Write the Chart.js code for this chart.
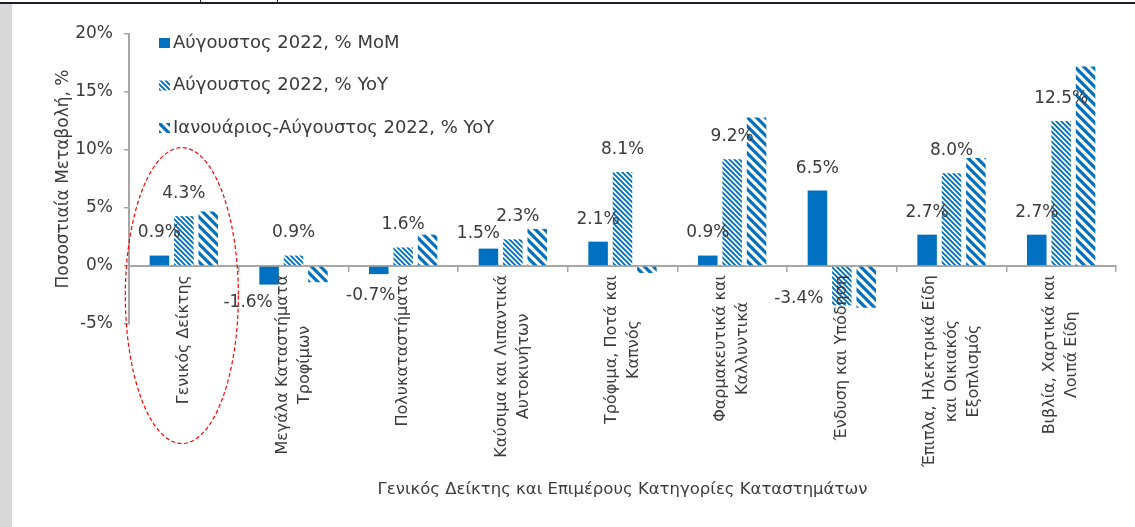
<!DOCTYPE html>
<html>
<head>
<meta charset="utf-8">
<script src="https://cdn.jsdelivr.net/npm/chart.js@4.4.1/dist/chart.umd.min.js"></script>
<style>
html,body{margin:0;padding:0;background:#fff;overflow:hidden;}
#wrap{position:relative;width:1135px;height:527px;}
#strip{position:absolute;left:0;top:4px;width:12px;height:523px;background:#D9D9D9;}
#topline{position:absolute;left:0;top:2px;width:1135px;height:2px;background:#1d1d2c;}
.tk{position:absolute;top:0;width:1px;height:3px;background:#1d1d2c;}
#c{position:absolute;left:0;top:0;}
</style>
</head>
<body>
<div id="wrap">
  <div id="strip"></div>
  <div id="topline"></div>
  <div class="tk" style="left:200px"></div>
  <div class="tk" style="left:277px"></div>
  <canvas id="c" width="1135" height="527"></canvas>
</div>
<script>
// ---- data ----
const categories = [
  ["Γενικός Δείκτης"],
  ["Μεγάλα Καταστήματα", "Τροφίμων"],
  ["Πολυκαταστήματα"],
  ["Καύσιμα και Λιπαντικά", "Αυτοκινήτων"],
  ["Τρόφιμα, Ποτά και", "Καπνός"],
  ["Φαρμακευτικά και", "Καλλυντικά"],
  ["Ένδυση και Υπόδηση"],
  ["Έπιπλα, Ηλεκτρικά Είδη", "και Οικιακός", "Εξοπλισμός"],
  ["Βιβλία, Χαρτικά και", "Λοιπά Είδη"]
];
const seriesNames = [
  "Αύγουστος 2022, % MoM",
  "Αύγουστος 2022, % YoY",
  "Ιανουάριος-Αύγουστος 2022, % YoY"
];
const momValues = [0.9, -1.6, -0.7, 1.5, 2.1, 0.9, 6.5, 2.7, 2.7];
const yoyValues = [4.3, 0.9, 1.6, 2.3, 8.1, 9.2, -3.4, 8.0, 12.5];
const ytdValues = [4.7, -1.4, 2.7, 3.2, -0.6, 12.8, -3.6, 9.3, 17.2];
const yTicks = [-5, 0, 5, 10, 15, 20];
const yTitle = "Ποσοστιαία Μεταβολή, %";
const xTitle = "Γενικός Δείκτης και Επιμέρους Κατηγορίες Καταστημάτων";

// ---- style ----
const FONT = '"DejaVu Sans", sans-serif';
const TXT = '#3b3b3b';
const BLUE = '#0070C0';
const AXIS = '#A6A6A6';

function makePattern(size, lw) {
  const c = document.createElement('canvas');
  c.width = size; c.height = size;
  const g = c.getContext('2d');
  g.fillStyle = '#ffffff';
  g.fillRect(0, 0, size, size);
  g.strokeStyle = BLUE;
  g.lineWidth = lw;
  g.beginPath();
  for (let k = -2; k <= 2; k++) {
    g.moveTo(k * size - size, -size);
    g.lineTo(k * size + 2 * size, 2 * size);
  }
  g.stroke();
  return document.getElementById('c').getContext('2d').createPattern(c, 'repeat');
}
const patYoY = makePattern(5, 1.9);
const patYtd = makePattern(9, 3.2);

// nudges for a few manually placed data labels: "dataset-index": [dx, dy]
const labelNudges = { '0-1': [-21, -2], '0-2': [-8, 1], '0-3': [-10, 7], '1-3': [5, 0], '1-6': [-43, -27] };

const decor = {
  id: 'decor',
  afterDraw(chart) {
    const { ctx, chartArea, scales: { x, y } } = chart;
    ctx.save();
    // data labels (first two series)
    ctx.font = '17px ' + FONT;
    ctx.fillStyle = TXT;
    ctx.textAlign = 'center';
    ctx.textBaseline = 'middle';
    [0, 1].forEach(di => {
      const meta = chart.getDatasetMeta(di);
      const vals = chart.data.datasets[di].data;
      meta.data.forEach((bar, i) => {
        const v = vals[i];
        const n = labelNudges[di + '-' + i] || [0, 0];
        const yy = v >= 0 ? bar.y - 22.5 : bar.y + 20;
        ctx.fillText(v.toFixed(1) + '%', bar.x + n[0], yy + n[1]);
      });
    });
    // category labels (rotated, centered lines)
    ctx.font = '16px ' + FONT;
    const lh = 22;
    const y0 = y.getPixelForValue(0);
    categories.forEach((lines, i) => {
      const cx = x.getPixelForValue(i);
      const maxW = Math.max(...lines.map(l => ctx.measureText(l).width));
      ctx.save();
      ctx.translate(cx, y0 + 9);
      ctx.rotate(-Math.PI / 2);
      ctx.textAlign = 'center';
      ctx.textBaseline = 'middle';
      lines.forEach((l, k) => {
        ctx.fillText(l, -maxW / 2, (k - (lines.length - 1) / 2) * lh);
      });
      ctx.restore();
    });
    // x axis title
    ctx.font = '16.5px ' + FONT;
    ctx.textAlign = 'center';
    ctx.textBaseline = 'middle';
    ctx.fillText(xTitle, (chartArea.left + chartArea.right) / 2, 490);
    // legend inside plot
    const lx = chartArea.left + 30, ly0 = chartArea.top + 9, step = 42.5;
    chart.data.datasets.forEach((ds, k) => {
      const yy = ly0 + k * step;
      ctx.fillStyle = ds.backgroundColor;
      ctx.fillRect(lx, yy - 5, 11, 10);
      ctx.fillStyle = TXT;
      ctx.font = '18px ' + FONT;
      ctx.textAlign = 'left';
      ctx.fillText(ds.label, lx + 14, yy);
    });
    // red dashed ellipse around the general index
    ctx.beginPath();
    ctx.ellipse(x.getPixelForValue(0) - 2, y.getPixelForValue(-2.55), 56.5, 148, 0, 0, Math.PI * 2);
    ctx.setLineDash([4, 2.5]);
    ctx.strokeStyle = '#FF0000';
    ctx.lineWidth = 1.2;
    ctx.stroke();
    ctx.restore();
  }
};

new Chart(document.getElementById('c'), {
  type: 'bar',
  data: {
    labels: categories.map(c => c.join(' ')),
    datasets: [
      { label: seriesNames[0], data: momValues, backgroundColor: BLUE },
      { label: seriesNames[1], data: yoyValues, backgroundColor: patYoY },
      { label: seriesNames[2], data: ytdValues, backgroundColor: patYtd }
    ]
  },
  options: {
    responsive: false,
    animation: false,
    layout: { padding: { left: 0, top: 34, right: 19, bottom: 203 } },
    datasets: { bar: { categoryPercentage: 0.6675, barPercentage: 0.8 } },
    plugins: { legend: { display: false }, tooltip: { enabled: false } },
    scales: {
      x: {
        position: { y: 0 },
        ticks: { display: false },
        grid: { display: true, drawOnChartArea: false, drawTicks: true, tickLength: 5, color: AXIS, lineWidth: 1.5, offset: true },
        border: { display: true, color: AXIS, width: 2 }
      },
      y: {
        min: yTicks[0], max: yTicks[yTicks.length - 1],
        afterBuildTicks: s => { s.ticks = yTicks.map(v => ({ value: v })); },
        ticks: { callback: v => v + '%', color: TXT, font: { family: FONT, size: 17 }, padding: 11 },
        grid: { display: true, drawOnChartArea: false, drawTicks: true, tickLength: 5, color: AXIS, lineWidth: 1.5 },
        border: { display: true, color: AXIS, width: 2 },
        title: { display: true, text: yTitle, color: TXT, font: { family: FONT, size: 17 }, padding: { top: 53, bottom: 0 } },
        afterFit: s => { s.width = 129; }
      }
    }
  },
  plugins: [decor]
});
</script>
</body>
</html>
